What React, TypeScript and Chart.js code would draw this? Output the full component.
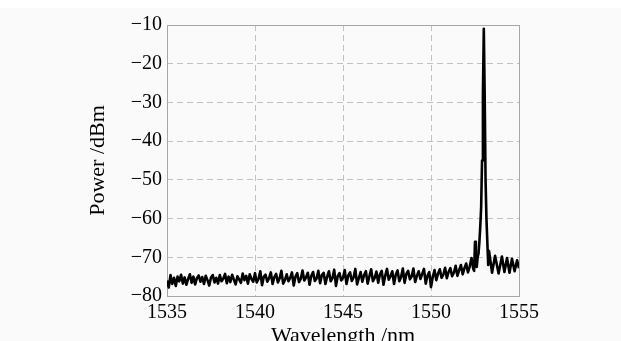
import React, { useEffect, useRef } from "react";
import { Chart, registerables } from "chart.js";

Chart.register(...registerables);

// Baseline noise sampled every 0.1 nm from 1535.0 nm to 1552.4 nm
const baselineStart = 1535.0;
const baselineStep = 0.1;
const baselinePower: number[] = [
  -76.0, -77.8, -74.6, -76.9, -75.3, -77.4, -75.0, -76.2, -74.5, -76.8,
  -75.2, -77.1, -75.6, -74.4, -76.6, -75.0, -77.0, -75.4, -74.7, -76.3,
  -75.1, -76.9, -74.8, -75.9, -77.3, -75.2, -74.6, -76.5, -75.3, -76.8,
  -74.6, -76.2, -75.5, -74.3, -76.7, -75.0, -76.4, -74.5, -75.8, -77.0,
  -74.9, -75.7, -76.6, -74.2, -75.9, -74.8, -76.8, -74.4, -75.6, -76.3,
  -74.1, -76.5, -75.6, -73.6, -77.2, -75.0, -74.5, -76.3, -75.4, -73.9,
  -76.9, -75.1, -74.3, -76.5, -75.4, -73.5, -76.8, -75.9, -74.4, -76.2,
  -75.3, -73.9, -77.3, -75.0, -74.1, -76.4, -75.6, -73.4, -76.0, -75.2,
  -74.0, -77.1, -74.8, -73.8, -76.1, -75.5, -73.5, -76.7, -74.6, -74.0,
  -76.9, -75.0, -73.6, -76.2, -75.4, -73.2, -77.4, -74.9, -74.1, -76.0,
  -75.3, -73.3, -76.9, -74.7, -73.9, -76.1, -75.2, -73.0, -77.0, -75.4,
  -73.8, -76.3, -74.6, -73.6, -76.8, -74.9, -73.1, -76.2, -75.3, -73.7,
  -76.6, -74.4, -73.5, -77.1, -74.8, -73.0, -75.8, -74.9, -73.6, -76.9,
  -74.5, -73.4, -76.2, -75.1, -72.9, -76.6, -74.3, -73.5, -75.7, -75.0,
  -72.9, -76.4, -74.8, -73.6, -75.6, -74.3, -73.0, -76.8, -74.7, -73.8,
  -77.7, -75.1, -73.3, -75.9, -74.2, -73.1, -75.3, -74.5, -72.7, -75.4,
  -73.8, -72.8, -74.9, -74.0, -72.2, -74.8, -73.3, -72.0, -74.4, -72.8,
  -71.6, -73.9, -72.4, -70.2, -73.0,
];

// Lasing peak region and the ripple after it
const peakWavelength: number[] = [
  1552.45, 1552.5, 1552.55, 1552.6, 1552.65, 1552.7, 1552.75, 1552.8, 1552.85,
  1552.9, 1552.95, 1553.0, 1553.05, 1553.1, 1553.15, 1553.2, 1553.25, 1553.3,
  1553.47, 1553.64, 1553.84, 1554.03, 1554.17, 1554.32, 1554.46, 1554.6,
  1554.75, 1554.89, 1555.0,
];
const peakPower: number[] = [
  -73.5, -66.0, -69.0, -72.5, -70.0, -69.0, -66.0, -62.0, -57.0,
  -45.0, -28.0, -11.0, -28.0, -50.0, -60.0, -66.0, -72.0, -68.4,
  -74.0, -69.6, -74.2, -69.8, -73.8, -70.2, -74.0, -70.4,
  -73.6, -70.8, -72.8,
];

const xTicks = [1535, 1540, 1545, 1550, 1555];
const yTicks = [-80, -70, -60, -50, -40, -30, -20, -10];

const FONT = "'Liberation Serif', 'Times New Roman', serif";

export default function App() {
  const ref = useRef<HTMLCanvasElement | null>(null);

  useEffect(() => {
    document.body.style.margin = "0";
    const canvas = ref.current;
    if (!canvas) return;

    const points: { x: number; y: number }[] = [];
    baselinePower.forEach((p, i) => {
      points.push({ x: +(baselineStart + i * baselineStep).toFixed(2), y: p });
    });
    peakWavelength.forEach((w, i) => points.push({ x: w, y: peakPower[i] }));

    const boxPlugin = {
      id: "box",
      beforeDatasetsDraw(chart: any) {
        const { ctx, chartArea } = chart;
        ctx.save();
        ctx.strokeStyle = "#a9a4a6";
        ctx.lineWidth = 1;
        ctx.setLineDash([]);
        ctx.strokeRect(
          Math.round(chartArea.left) + 0.5,
          Math.round(chartArea.top) + 0.5,
          Math.round(chartArea.right - chartArea.left),
          Math.round(chartArea.bottom - chartArea.top)
        );
        ctx.restore();
      },
    };

    const chart = new Chart(canvas, {
      type: "line",
      data: {
        datasets: [
          {
            data: points,
            borderColor: "#000000",
            borderWidth: 2.6,
            borderJoinStyle: "round",
            pointRadius: 0,
            tension: 0,
            fill: false,
          },
        ],
      },
      options: {
        animation: false,
        responsive: false,
        layout: { padding: { left: 0, right: 102, top: 12, bottom: 0 } },
        plugins: { legend: { display: false }, tooltip: { enabled: false } },
        scales: {
          x: {
            type: "linear",
            min: 1535,
            max: 1555,
            afterBuildTicks: (scale: any) => {
              scale.ticks = xTicks.map((v) => ({ value: v }));
            },
            afterFit: (scale: any) => {
              scale.height = 45;
            },
            ticks: {
              color: "#000",
              padding: 5,
              font: { family: FONT, size: 20 },
              callback: (v: any) => String(v),
            },
            grid: {
              color: "#c4c0c2",
              lineWidth: 1,
              drawTicks: false,
            },
            border: { display: false, dash: [6, 4] },
            title: {
              display: true,
              text: "Wavelength /nm",
              color: "#000",
              font: { family: FONT, size: 22, lineHeight: 1 },
              padding: { top: 0, bottom: -6 },
            },
          },
          y: {
            type: "linear",
            min: -80,
            max: -10,
            afterBuildTicks: (scale: any) => {
              scale.ticks = yTicks.map((v) => ({ value: v }));
            },
            afterFit: (scale: any) => {
              scale.width = 167;
            },
            ticks: {
              color: "#000",
              padding: 5,
              font: { family: FONT, size: 20 },
              callback: (v: any) => String(v).replace("-", "\u2212"),
            },
            grid: {
              color: "#c4c0c2",
              lineWidth: 1,
              drawTicks: false,
            },
            border: { display: false, dash: [6, 4] },
            title: {
              display: true,
              text: "Power /dBm",
              color: "#000",
              font: { family: FONT, size: 22, lineHeight: 1.2 },
              padding: { top: 85, bottom: 0 },
            },
          },
        },
      },
      plugins: [boxPlugin],
    });

    return () => chart.destroy();
  }, []);

  return (
    <div style={{ paddingTop: 8, background: "#ffffff" }}>
      <canvas
        ref={ref}
        width={621}
        height={333}
        style={{ display: "block", width: 621, height: 333, background: "#fafafa" }}
      />
    </div>
  );
}
